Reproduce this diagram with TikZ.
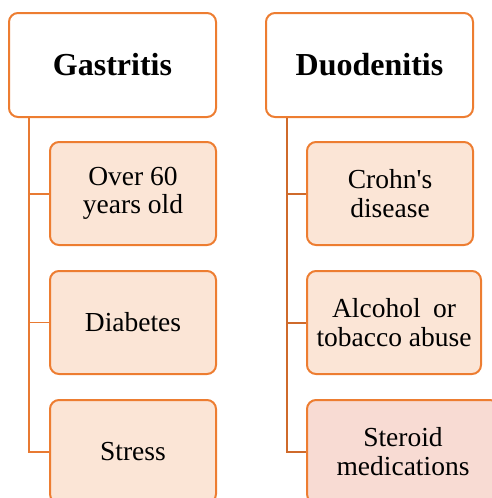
\documentclass[tikz,border=0pt]{standalone}
\usepackage{fontspec}
\setmainfont{Liberation Serif}
\newfontfamily\plainserif[Ligatures=ResetAll]{Liberation Serif}
\definecolor{edge}{HTML}{ED7D31}
\definecolor{trunkL}{HTML}{E87A32}
\definecolor{trunkR}{HTML}{CF6A2B}
\definecolor{fillA}{HTML}{FBE5D6}
\definecolor{fillB}{HTML}{F8DBD3}
\tikzset{
  head/.style={draw=edge, line width=2pt, rounded corners=9pt, fill=white,
    minimum width=207pt, minimum height=104pt, inner sep=0pt, align=center,
    font=\fontsize{32}{36}\selectfont\bfseries},
  item/.style={draw=edge, line width=2pt, rounded corners=9pt, fill=fillA,
    minimum width=166pt, minimum height=103pt, inner sep=0pt, align=center,
    font=\fontsize{27.5}{28.5}\selectfont},
  linkL/.style={draw=trunkL, line width=2pt},
  linkR/.style={draw=trunkR, line width=2pt},
}
\begin{document}
\begin{tikzpicture}[x=1pt,y=-1pt]
\useasboundingbox (0,0) rectangle (492,498);
\clip (0,0) rectangle (492,498);
% headers
\node[head] (G) at (112.5,65) {Gastritis};
\node[head] (D) at (369.5,65) {Duodenitis};
% left items
\node[item] (L1) at (133,193.5) {Over 60\\years old};
\node[item] (L2) at (133,322.5) {Diabetes};
\node[item] (L3) at (133,451.5) {Stress};
% right items
\node[item] (R1) at (390,193.5) {{\plainserif Crohn's}\\disease};
\node[item, minimum width=174pt] (R2) at (394,322.5) {Alcohol\hspace{0.45em}or\\tobacco abuse};
\node[item, fill=fillB, minimum width=192pt] (R3) at (403,451.5) {Steroid\\medications};
% connectors
\draw[linkL] ([xshift=21pt]G.south west) |- (L3.west);
\draw[linkL] ([xshift=21pt]G.south west) |- (L1.west);
\draw[linkL, line width=1pt] ([xshift=21pt]G.south west) |- (L2.west);
\draw[linkR] ([xshift=22pt]D.south west) |- (R3.west);
\draw[linkR] ([xshift=22pt]D.south west) |- (R1.west);
\draw[linkR] ([xshift=22pt]D.south west) |- (R2.west);
\end{tikzpicture}
\end{document}
